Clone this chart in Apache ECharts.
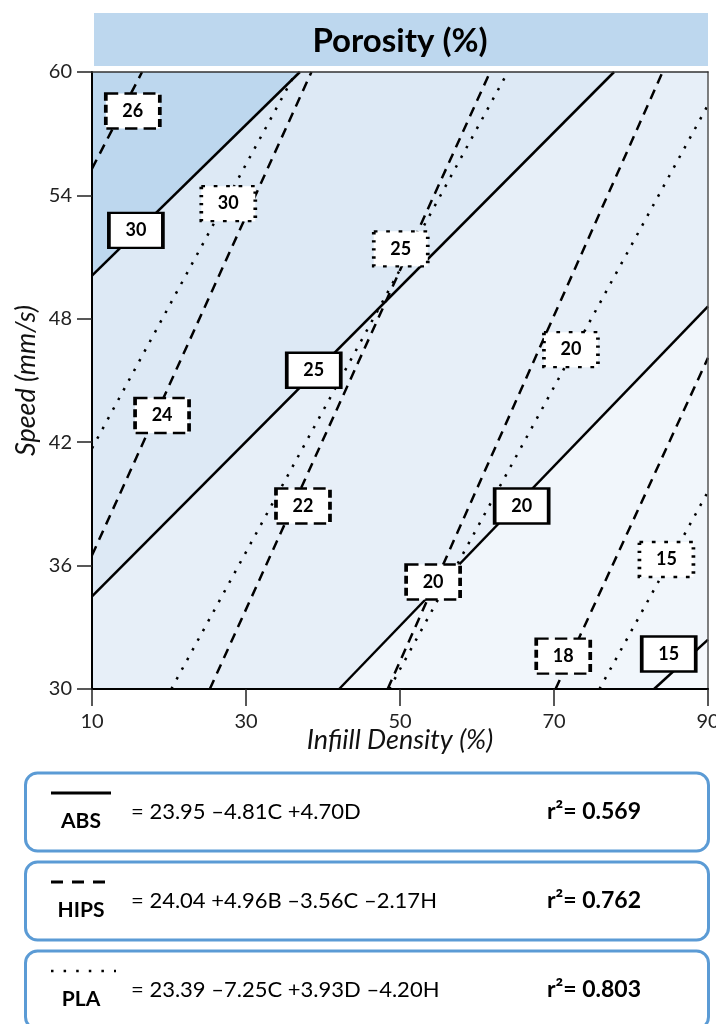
<!DOCTYPE html>
<html>
<head>
<meta charset="utf-8">
<script src="https://cdn.jsdelivr.net/npm/echarts@6/dist/echarts.min.js"></script>
<style>
  html, body { margin: 0; padding: 0; background: #ffffff; }
  #chart { width: 716px; height: 1024px; }
</style>
</head>
<body>
<div id="chart"></div>
<script>
// Axis ranges and tick labels
const xMin = 10, xMax = 90;
const xTickValues = [10, 30, 50, 70, 90];
const yMin = 30, yMax = 60, yStep = 6;

// ABS contours (solid): level, end points [infill, speed], label anchor
const absLevels = [30, 25, 20, 15];
const absLines = [
  [[10, 50.1], [37.0, 60]],
  [[10, 34.5], [77.8, 60]],
  [[42.1, 30], [90, 48.6]],
  [[83.0, 30], [90, 32.4]]
];
const absLabelPos = [[15.7, 52.3], [38.8, 45.5], [65.8, 38.9], [84.9, 31.7]];

// HIPS contours (dashed)
const hipsLevels = [26, 24, 22, 20, 18];
const hipsLines = [
  [[10, 55.3], [16.5, 60]],
  [[10, 36.5], [38.5, 60]],
  [[25.3, 30], [61.7, 60]],
  [[48.4, 30], [84.1, 60]],
  [[70.2, 30], [90, 46.1]]
];
const hipsLabelPos = [[15.3, 58.1], [19.1, 43.3], [37.4, 38.9], [54.3, 35.2], [71.2, 31.6]];

// PLA contours (dotted)
const plaLevels = [30, 25, 20, 15];
const plaLines = [
  [[10, 41.7], [36.5, 60]],
  [[20.3, 30], [64.0, 60]],
  [[48.6, 30], [90, 58.4]],
  [[75.9, 30], [90, 39.6]]
];
const plaLabelPos = [[27.7, 53.6], [50.1, 51.4], [72.2, 46.5], [84.6, 36.3]];

// Regression summary rows
const materials = ['ABS', 'HIPS', 'PLA'];
const equations = [
  '= 23.95 \u20134.81C +4.70D',
  '= 24.04 +4.96B \u20133.56C \u20132.17H',
  '= 23.39 \u20137.25C +3.93D \u20134.20H'
];
const rSquared = ['0.569', '0.762', '0.803'];

// ---- styling ----
const FONT = 'Lato, "Open Sans", sans-serif';
const baseFill = '#F6F9FD';
// fills of the zones lying above each ABS contour (15, 20, 25, 30)
const zoneFill = { 15: '#F1F6FB', 20: '#E7EFF8', 25: '#DDE9F5', 30: '#BDD7EE' };
const styleOf = {
  solid:  { line: 'solid',  box: 'solid',  width: 2.5 },
  dashed: { line: [10, 7],  box: [10, 5],  width: 2.5 },
  dotted: { line: [2.5, 8.5], box: [3, 7], width: 2.5 }
};

// Part of the plot rectangle lying above a contour line (half-plane clip)
function clipAbove(seg) {
  const [p1, p2] = seg;
  const side = p => (p2[0] - p1[0]) * (p[1] - p1[1]) - (p2[1] - p1[1]) * (p[0] - p1[0]);
  const corners = [[xMin, yMin], [xMax, yMin], [xMax, yMax], [xMin, yMax]];
  const out = [];
  for (let i = 0; i < 4; i++) {
    const a = corners[i], b = corners[(i + 1) % 4];
    const sa = side(a), sb = side(b);
    if (sa >= 0) out.push(a);
    if ((sa >= 0) !== (sb >= 0)) {
      const t = sa / (sa - sb);
      out.push([a[0] + t * (b[0] - a[0]), a[1] + t * (b[1] - a[1])]);
    }
  }
  return out;
}

const zoneOrder = absLevels.map((lv, i) => ({ lv, i })).sort((a, b) => a.lv - b.lv);
const zonePolys = zoneOrder.map(z => clipAbove(absLines[z.i]));
const zoneFills = zoneOrder.map(z => zoneFill[z.lv]);

const series = [];

series.push({
  type: 'custom',
  coordinateSystem: 'cartesian2d',
  silent: true,
  z: 1,
  data: zonePolys.map((p, i) => [p[0][0], p[0][1], i]),
  renderItem: (params, api) => ({
    type: 'polygon',
    shape: { points: zonePolys[params.dataIndex].map(pt => api.coord(pt)) },
    style: { fill: zoneFills[params.dataIndex] }
  })
});

function addContours(lines, kind) {
  const st = styleOf[kind];
  lines.forEach(seg => {
    series.push({
      type: 'line',
      data: seg,
      symbol: 'none',
      silent: true,
      z: 3,
      lineStyle: { color: '#000', width: st.width, type: st.line, cap: 'butt' }
    });
  });
}
addContours(absLines, 'solid');
addContours(hipsLines, 'dashed');
addContours(plaLines, 'dotted');

function addLabels(pos, levels, kind) {
  const st = styleOf[kind];
  series.push({
    type: 'scatter',
    symbol: 'rect',
    symbolSize: [54, 35],
    silent: true,
    z: 10,
    data: pos.map((p, i) => [p[0], p[1], levels[i]]),
    itemStyle: { color: '#ffffff', borderColor: '#000', borderWidth: 3, borderType: st.box, opacity: 1 },
    label: {
      show: true, position: 'inside',
      formatter: d => String(d.value[2]),
      color: '#000', fontFamily: FONT, fontWeight: 'bold', fontSize: 18
    }
  });
}
addLabels(absLabelPos, absLevels, 'solid');
addLabels(hipsLabelPos, hipsLevels, 'dashed');
addLabels(plaLabelPos, plaLevels, 'dotted');

// Title band and summary boxes below the plot
const graphic = [
  { type: 'rect', shape: { x: 94, y: 13, width: 614, height: 53 }, style: { fill: '#BDD7EE' }, z: 0 },
  { type: 'text', x: 400, y: 41, style: { text: 'Porosity (%)', font: 'bold 33px ' + FONT, fill: '#000', align: 'center', verticalAlign: 'middle' }, z: 1 }
];
const sampleKinds = ['solid', 'dashed', 'dotted'];
const sampleDash = { solid: null, dashed: [12, 9], dotted: [2.5, 10.1] };
materials.forEach((name, i) => {
  const top = 773 + i * 89;
  const kind = sampleKinds[i];
  graphic.push({
    type: 'rect',
    shape: { x: 25.5, y: top, width: 683, height: 78, r: 12 },
    style: { fill: '#ffffff', stroke: '#5B9BD5', lineWidth: 3 }
  });
  graphic.push({
    type: 'line',
    shape: { x1: 51, y1: top + 20, x2: kind === 'dotted' ? 116 : (kind === 'dashed' ? 107 : 111), y2: top + 20 },
    style: { stroke: '#000', lineWidth: kind === 'dotted' ? 2.5 : 3, lineDash: sampleDash[kind] }
  });
  graphic.push({
    type: 'text', x: 81, y: top + 48,
    style: { text: name, font: 'bold 21px ' + FONT, fill: '#000', align: 'center', verticalAlign: 'middle' }
  });
  graphic.push({
    type: 'text', x: 131, y: top + 39,
    style: { text: equations[i], font: '22px ' + FONT, fill: '#000', align: 'left', verticalAlign: 'middle' }
  });
  graphic.push({
    type: 'text', x: 547, y: top + 39,
    style: { text: 'r\u00B2= ' + rSquared[i], font: 'bold 23px ' + FONT, fill: '#000', align: 'left', verticalAlign: 'middle' }
  });
});

const chart = echarts.init(document.getElementById('chart'), null, { renderer: 'canvas' });
chart.setOption({
  animation: false,
  backgroundColor: '#ffffff',
  grid: {
    left: 92, right: 8, top: 72, bottom: 335,
    containLabel: false, outerBoundsMode: 'none',
    show: true, backgroundColor: baseFill, borderWidth: 0
  },
  xAxis: [{
    type: 'value', min: xMin, max: xMax, z: 5,
    name: 'Infiill Density (%)', nameLocation: 'middle', nameGap: 38, nameMoveOverlap: false,
    nameTextStyle: { fontFamily: FONT, fontStyle: 'italic', fontSize: 27, color: '#111' },
    axisLine: { show: true, onZero: false, lineStyle: { color: '#000', width: 2 } },
    axisTick: { show: true, length: 17, customValues: xTickValues, lineStyle: { color: '#222', width: 1.5 } },
    axisLabel: { customValues: xTickValues, margin: 23, fontFamily: FONT, fontSize: 20, color: '#222' },
    splitLine: { show: false }
  }, {
    type: 'value', min: xMin, max: xMax, position: 'top', z: 5,
    axisLine: { show: true, onZero: false, lineStyle: { color: '#333', width: 1.5 } },
    axisTick: { show: false }, axisLabel: { show: false }, splitLine: { show: false }
  }],
  yAxis: [{
    type: 'value', min: yMin, max: yMax, interval: yStep, z: 5,
    name: 'Speed (mm/s)', nameLocation: 'middle', nameGap: 52, nameMoveOverlap: false,
    nameTextStyle: { fontFamily: FONT, fontStyle: 'italic', fontSize: 27, color: '#111' },
    axisLine: { show: true, onZero: false, lineStyle: { color: '#000', width: 2 } },
    axisTick: { show: true, length: 15, lineStyle: { color: '#222', width: 1.5 } },
    axisLabel: { margin: 20, fontFamily: FONT, fontSize: 20, color: '#222' },
    splitLine: { show: false }
  }, {
    type: 'value', min: yMin, max: yMax, position: 'right', z: 5,
    axisLine: { show: true, onZero: false, lineStyle: { color: '#555', width: 1.5 } },
    axisTick: { show: false }, axisLabel: { show: false }, splitLine: { show: false }
  }],
  graphic: graphic,
  series: series
});
</script>
</body>
</html>
